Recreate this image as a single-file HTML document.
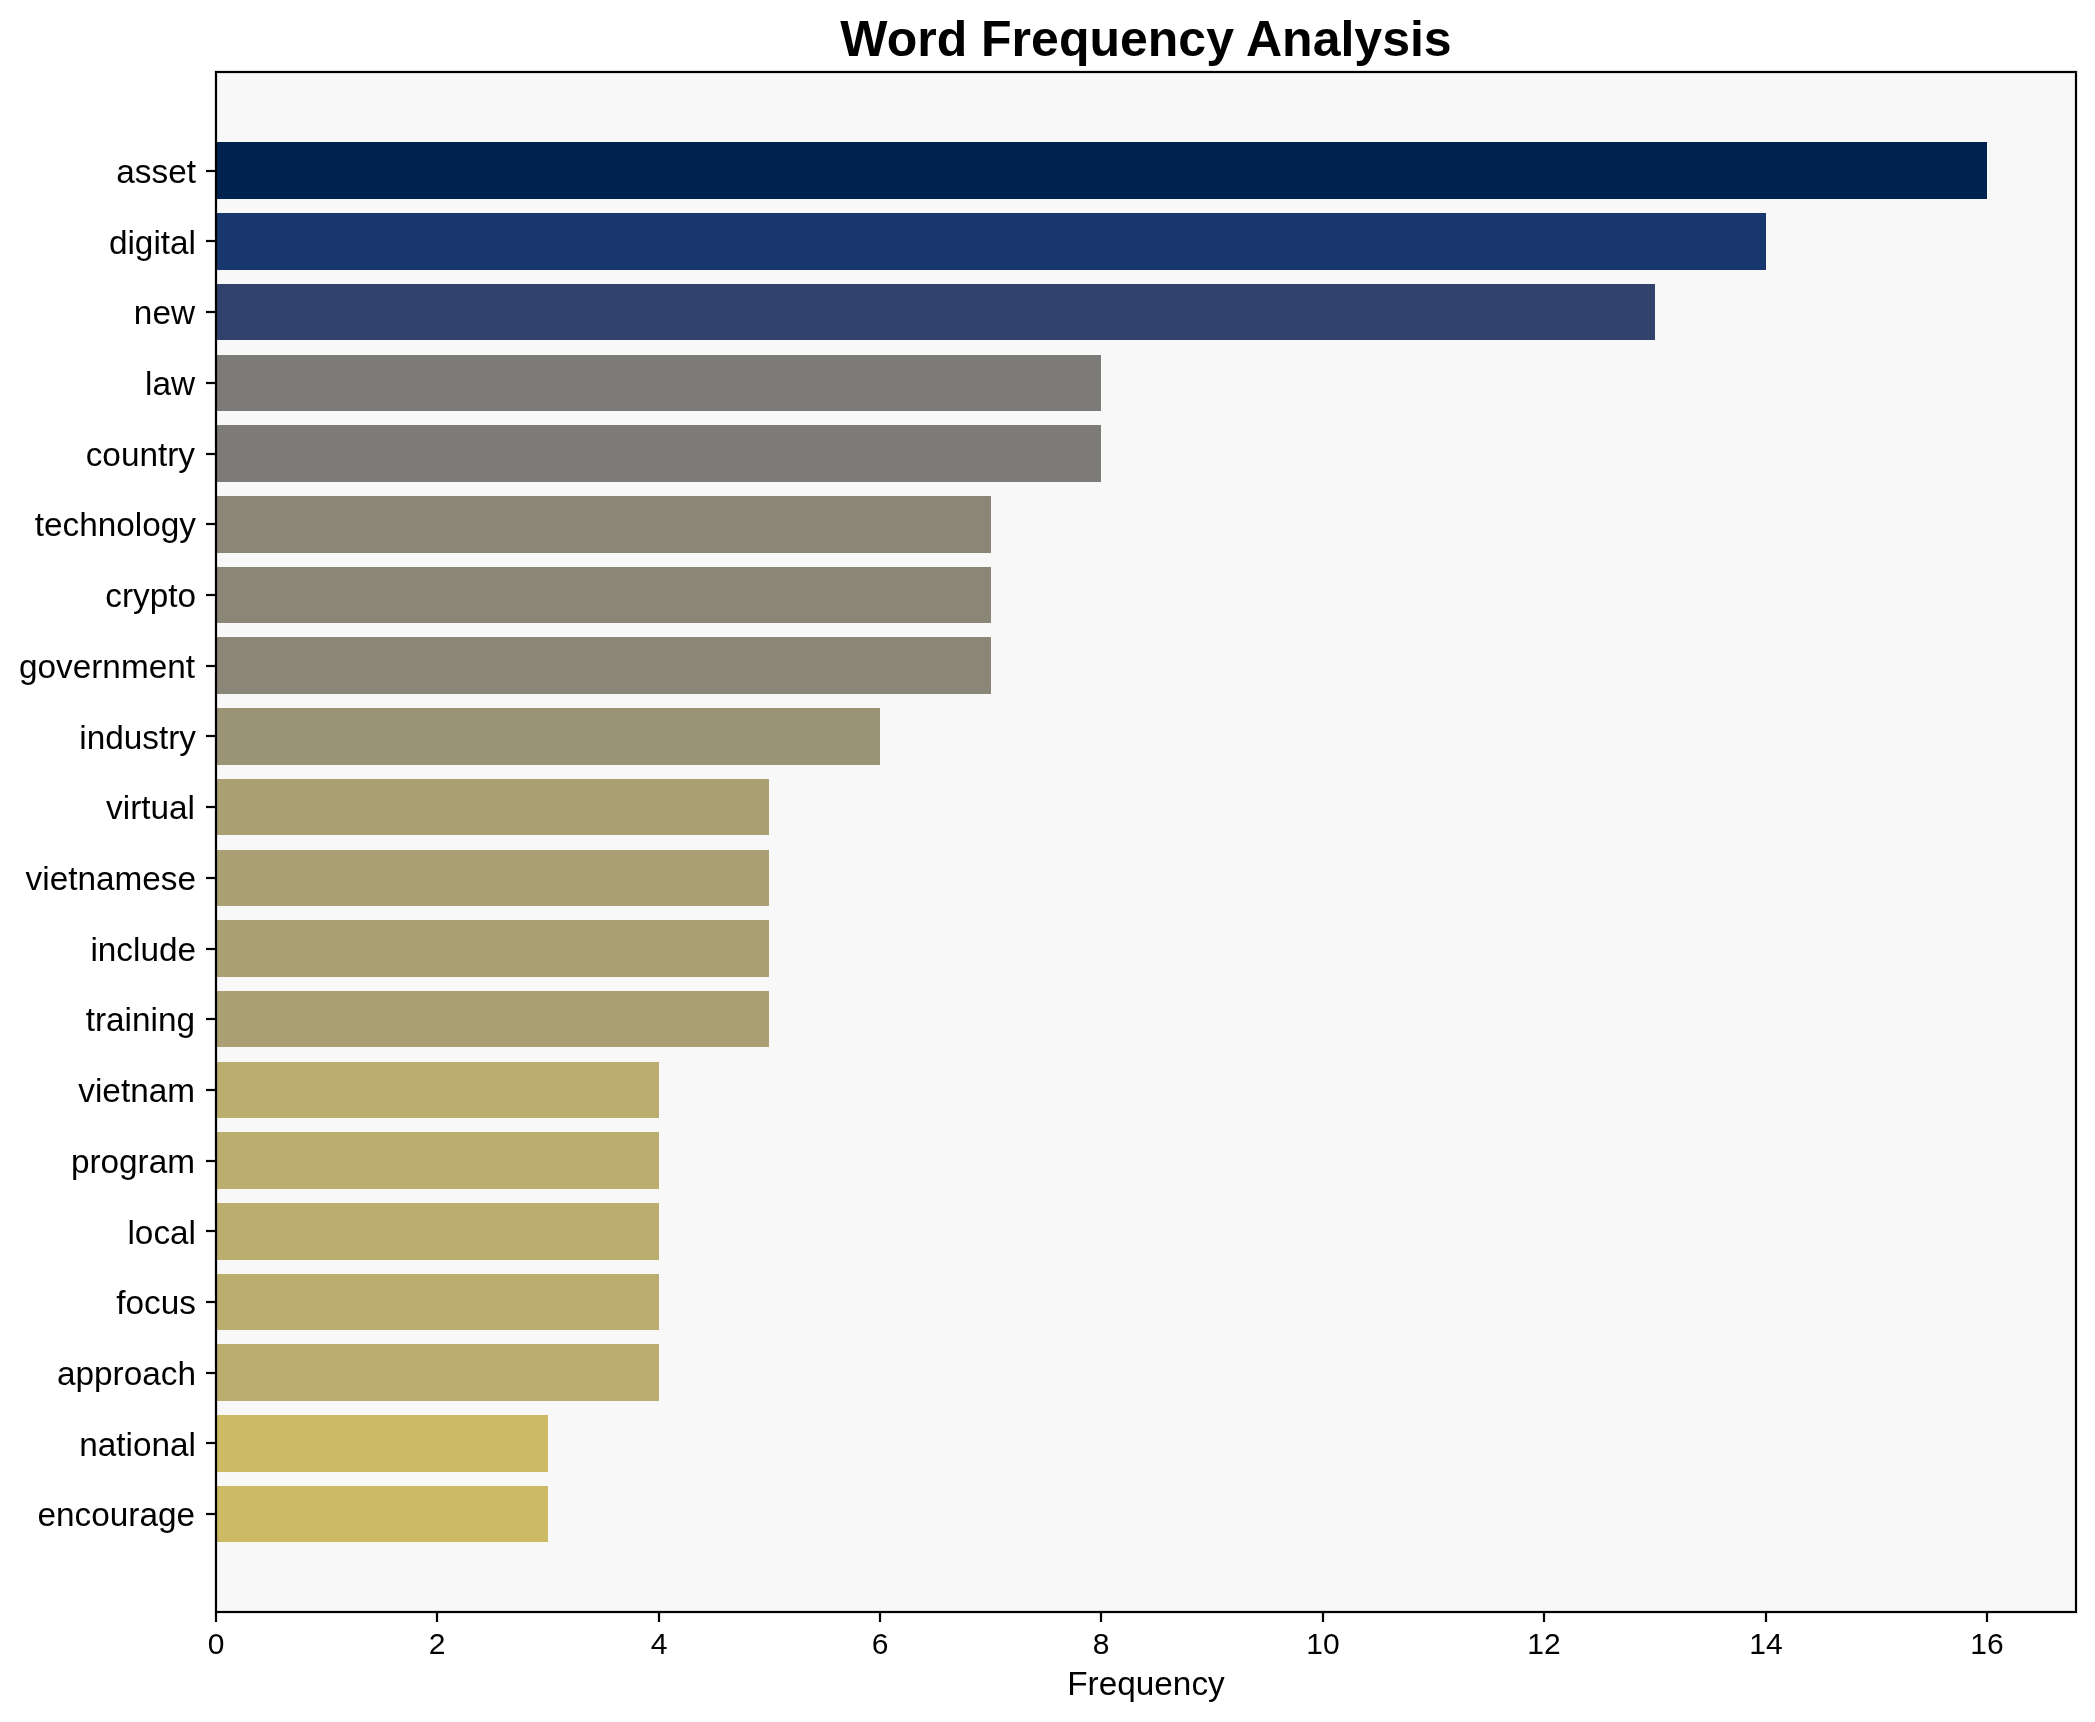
<!DOCTYPE html>
<html><head><meta charset="utf-8"><title>Word Frequency Analysis</title>
<style>
html,body{margin:0;padding:0;background:#fff;}
body{width:2095px;height:1722px;position:relative;overflow:hidden;font-family:"Liberation Sans",sans-serif;color:#000;}
.a{position:absolute;}
.bar{position:absolute;left:216px;}
.t{position:absolute;white-space:nowrap;line-height:0;height:0;will-change:transform;}
.yl{font-size:33.333px;text-align:right;width:400px;}
.xt{font-size:30.000px;text-align:center;width:100px;}
.fr{background:rgba(0,0,0,0.11);}
.k{background:#000;}
</style></head><body>

<div class="a" style="left:217px;top:73px;width:1858px;height:1538px;background:#f8f8f8"></div>
<div class="bar" style="top:142px;width:1771px;height:57px;background:#00224e"></div>
<div class="bar" style="top:213px;width:1550px;height:57px;background:#18376f"></div>
<div class="bar" style="top:284px;width:1439px;height:56px;background:#31436d"></div>
<div class="bar" style="top:355px;width:885px;height:56px;background:#7c7b78"></div>
<div class="bar" style="top:425px;width:885px;height:57px;background:#7c7b78"></div>
<div class="bar" style="top:496px;width:775px;height:57px;background:#8b8778"></div>
<div class="bar" style="top:567px;width:775px;height:56px;background:#8b8778"></div>
<div class="bar" style="top:637px;width:775px;height:57px;background:#8b8778"></div>
<div class="bar" style="top:708px;width:664px;height:57px;background:#9a9376"></div>
<div class="bar" style="top:779px;width:553px;height:56px;background:#aaa073"></div>
<div class="bar" style="top:850px;width:553px;height:56px;background:#aaa073"></div>
<div class="bar" style="top:920px;width:553px;height:57px;background:#aaa073"></div>
<div class="bar" style="top:991px;width:553px;height:56px;background:#aaa073"></div>
<div class="bar" style="top:1062px;width:443px;height:56px;background:#bbad6d"></div>
<div class="bar" style="top:1132px;width:443px;height:57px;background:#bbad6d"></div>
<div class="bar" style="top:1203px;width:443px;height:57px;background:#bbad6d"></div>
<div class="bar" style="top:1274px;width:443px;height:56px;background:#bbad6d"></div>
<div class="bar" style="top:1344px;width:443px;height:57px;background:#bbad6d"></div>
<div class="bar" style="top:1415px;width:332px;height:57px;background:#ccba64"></div>
<div class="bar" style="top:1486px;width:332px;height:56px;background:#ccba64"></div>
<div class="a fr" style="left:214px;top:70px;width:1864px;height:1544px;background:none;box-sizing:border-box;border:1px solid rgba(0,0,0,0.11)"></div>
<div class="a" style="left:215px;top:71px;width:1858px;height:1538px;border:2px solid #000"></div>
<div class="a" style="left:217px;top:73px;width:1858px;height:1538px;box-sizing:border-box;border:1px solid rgba(0,0,0,0.11)"></div>
<div class="a fr" style="left:206px;top:169px;width:9px;height:4px"></div><div class="a k" style="left:206px;top:170px;width:9px;height:2px"></div>
<div class="a fr" style="left:206px;top:239px;width:9px;height:4px"></div><div class="a k" style="left:206px;top:240px;width:9px;height:2px"></div>
<div class="a fr" style="left:206px;top:310px;width:9px;height:4px"></div><div class="a k" style="left:206px;top:311px;width:9px;height:2px"></div>
<div class="a fr" style="left:206px;top:381px;width:9px;height:4px"></div><div class="a k" style="left:206px;top:382px;width:9px;height:2px"></div>
<div class="a fr" style="left:206px;top:452px;width:9px;height:4px"></div><div class="a k" style="left:206px;top:453px;width:9px;height:2px"></div>
<div class="a fr" style="left:206px;top:522px;width:9px;height:4px"></div><div class="a k" style="left:206px;top:523px;width:9px;height:2px"></div>
<div class="a fr" style="left:206px;top:593px;width:9px;height:4px"></div><div class="a k" style="left:206px;top:594px;width:9px;height:2px"></div>
<div class="a fr" style="left:206px;top:664px;width:9px;height:4px"></div><div class="a k" style="left:206px;top:665px;width:9px;height:2px"></div>
<div class="a fr" style="left:206px;top:734px;width:9px;height:4px"></div><div class="a k" style="left:206px;top:735px;width:9px;height:2px"></div>
<div class="a fr" style="left:206px;top:805px;width:9px;height:4px"></div><div class="a k" style="left:206px;top:806px;width:9px;height:2px"></div>
<div class="a fr" style="left:206px;top:876px;width:9px;height:4px"></div><div class="a k" style="left:206px;top:877px;width:9px;height:2px"></div>
<div class="a fr" style="left:206px;top:947px;width:9px;height:4px"></div><div class="a k" style="left:206px;top:948px;width:9px;height:2px"></div>
<div class="a fr" style="left:206px;top:1017px;width:9px;height:4px"></div><div class="a k" style="left:206px;top:1018px;width:9px;height:2px"></div>
<div class="a fr" style="left:206px;top:1088px;width:9px;height:4px"></div><div class="a k" style="left:206px;top:1089px;width:9px;height:2px"></div>
<div class="a fr" style="left:206px;top:1159px;width:9px;height:4px"></div><div class="a k" style="left:206px;top:1160px;width:9px;height:2px"></div>
<div class="a fr" style="left:206px;top:1229px;width:9px;height:4px"></div><div class="a k" style="left:206px;top:1230px;width:9px;height:2px"></div>
<div class="a fr" style="left:206px;top:1300px;width:9px;height:4px"></div><div class="a k" style="left:206px;top:1301px;width:9px;height:2px"></div>
<div class="a fr" style="left:206px;top:1371px;width:9px;height:4px"></div><div class="a k" style="left:206px;top:1372px;width:9px;height:2px"></div>
<div class="a fr" style="left:206px;top:1441px;width:9px;height:4px"></div><div class="a k" style="left:206px;top:1442px;width:9px;height:2px"></div>
<div class="a fr" style="left:206px;top:1512px;width:9px;height:4px"></div><div class="a k" style="left:206px;top:1513px;width:9px;height:2px"></div>
<div class="a fr" style="left:214px;top:1613px;width:4px;height:9px"></div><div class="a k" style="left:215px;top:1613px;width:2px;height:9px"></div>
<div class="a fr" style="left:435px;top:1613px;width:4px;height:9px"></div><div class="a k" style="left:436px;top:1613px;width:2px;height:9px"></div>
<div class="a fr" style="left:657px;top:1613px;width:4px;height:9px"></div><div class="a k" style="left:658px;top:1613px;width:2px;height:9px"></div>
<div class="a fr" style="left:878px;top:1613px;width:4px;height:9px"></div><div class="a k" style="left:879px;top:1613px;width:2px;height:9px"></div>
<div class="a fr" style="left:1099px;top:1613px;width:4px;height:9px"></div><div class="a k" style="left:1100px;top:1613px;width:2px;height:9px"></div>
<div class="a fr" style="left:1321px;top:1613px;width:4px;height:9px"></div><div class="a k" style="left:1322px;top:1613px;width:2px;height:9px"></div>
<div class="a fr" style="left:1542px;top:1613px;width:4px;height:9px"></div><div class="a k" style="left:1543px;top:1613px;width:2px;height:9px"></div>
<div class="a fr" style="left:1764px;top:1613px;width:4px;height:9px"></div><div class="a k" style="left:1765px;top:1613px;width:2px;height:9px"></div>
<div class="a fr" style="left:1985px;top:1613px;width:4px;height:9px"></div><div class="a k" style="left:1986px;top:1613px;width:2px;height:9px"></div>
<div class="t yl" style="left:-204.50px;top:171.70px">asset</div>
<div class="t yl" style="left:-204.50px;top:242.66px">digital</div>
<div class="t yl" style="left:-205.00px;top:312.61px">new</div>
<div class="t yl" style="left:-205.00px;top:383.57px">law</div>
<div class="t yl" style="left:-205.00px;top:454.53px">country</div>
<div class="t yl" style="left:-204.50px;top:524.74px">technology</div>
<div class="t yl" style="left:-204.50px;top:595.69px">crypto</div>
<div class="t yl" style="left:-205.00px;top:666.65px">government</div>
<div class="t yl" style="left:-204.50px;top:737.61px">industry</div>
<div class="t yl" style="left:-205.00px;top:807.56px">virtual</div>
<div class="t yl" style="left:-204.50px;top:878.52px">vietnamese</div>
<div class="t yl" style="left:-204.50px;top:949.73px">include</div>
<div class="t yl" style="left:-205.00px;top:1019.69px">training</div>
<div class="t yl" style="left:-205.00px;top:1090.64px">vietnam</div>
<div class="t yl" style="left:-205.00px;top:1161.60px">program</div>
<div class="t yl" style="left:-204.50px;top:1232.56px">local</div>
<div class="t yl" style="left:-204.50px;top:1302.51px">focus</div>
<div class="t yl" style="left:-204.50px;top:1373.72px">approach</div>
<div class="t yl" style="left:-204.50px;top:1444.68px">national</div>
<div class="t yl" style="left:-205.00px;top:1514.64px">encourage</div>
<div class="t xt" style="left:165.69px;top:1643.81px">0</div>
<div class="t xt" style="left:387.12px;top:1643.81px">2</div>
<div class="t xt" style="left:608.55px;top:1643.81px">4</div>
<div class="t xt" style="left:829.98px;top:1643.81px">6</div>
<div class="t xt" style="left:1051.40px;top:1643.81px">8</div>
<div class="t xt" style="left:1272.83px;top:1643.81px">10</div>
<div class="t xt" style="left:1494.26px;top:1643.81px">12</div>
<div class="t xt" style="left:1715.69px;top:1643.81px">14</div>
<div class="t xt" style="left:1937.12px;top:1643.81px">16</div>
<div class="t" style="left:845.70px;width:600px;text-align:center;top:1683.55px;font-size:33.333px">Frequency</div>
<div class="t" style="left:545.70px;width:1200px;text-align:center;top:39.28px;font-size:50.000px;font-weight:bold">Word Frequency Analysis</div>
</body></html>
